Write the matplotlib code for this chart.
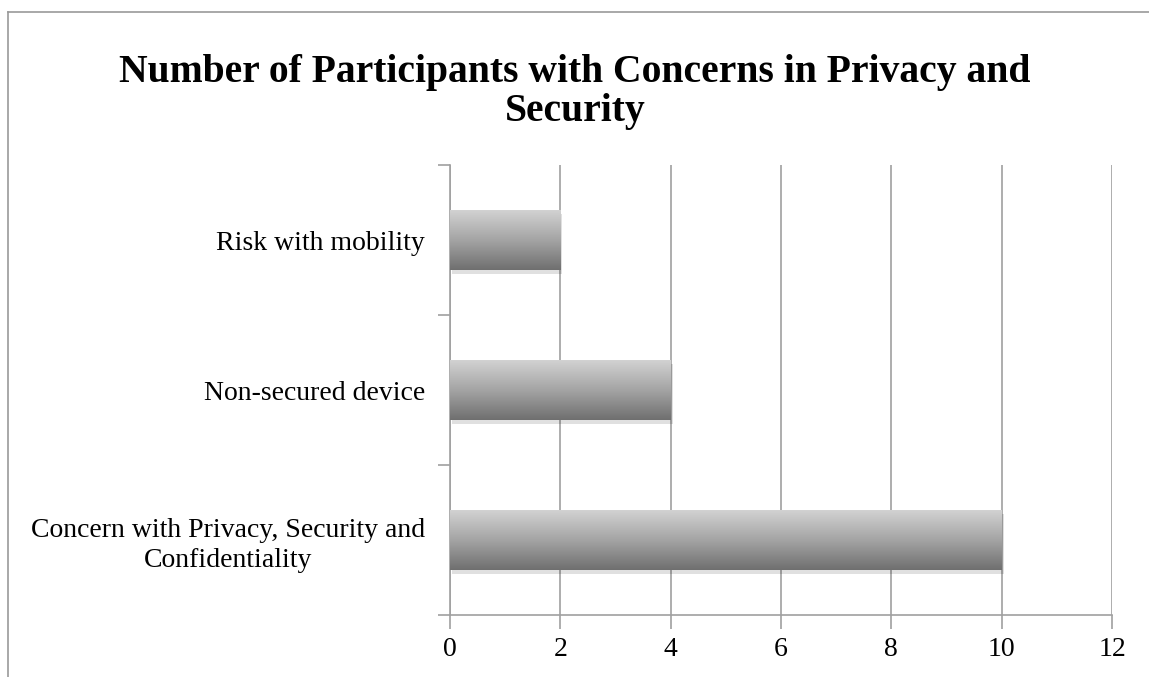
import numpy as np
import matplotlib
matplotlib.use("Agg")
import matplotlib.pyplot as plt
import matplotlib.patheffects as pe
from matplotlib.colors import LinearSegmentedColormap
from matplotlib.lines import Line2D

categories = ["Concern with Privacy, Security and\nConfidentiality",
              "Non-secured device",
              "Risk with mobility"]
values = [10, 4, 2]
xticks = [0, 2, 4, 6, 8, 10, 12]
title = "Number of Participants with Concerns in Privacy and\nSecurity"

plt.rcParams['font.family'] = ['Liberation Serif', 'DejaVu Serif']

fig = plt.figure(figsize=(11.49, 6.77), dpi=100)
ax = fig.add_axes([450 / 1149, 62 / 677, 662 / 1149, 450 / 677])

grey = "#a0a0a0"
ypos = np.arange(len(categories))
bars = ax.barh(ypos, values, height=0.4, color="#a0a0a0", linewidth=0, zorder=3,
               path_effects=[pe.SimplePatchShadow(offset=(1.5, -3), shadow_rgbFace="#000000", alpha=0.12),
                             pe.Normal()])

# light at the top, dark at the bottom
cmap = LinearSegmentedColormap.from_list("bargrad", ["#d2d2d2", "#a4a4a4", "#6f6f6f"])
grad = np.linspace(0, 1, 256).reshape(-1, 1)
for b in bars:
    x0, y0, w, h = b.get_x(), b.get_y(), b.get_width(), b.get_height()
    im = ax.imshow(grad, cmap=cmap, extent=[x0, x0 + w, y0, y0 + h], origin="upper",
                   aspect="auto", zorder=4, interpolation="bilinear")
    im.set_clip_path(b)

ax.set_xlim(0, 12)
ax.set_ylim(-0.5, len(categories) - 0.5)
ax.set_xticks(xticks)
ax.set_xticklabels([str(t) for t in xticks], fontsize=20)
ax.tick_params(axis="x", length=10, width=1.2, color=grey, pad=6)

ax.set_yticks(np.arange(-0.5, len(categories), 1.0))
ax.set_yticklabels([])
ax.tick_params(axis="y", which="major", length=9, width=1.2, color=grey)
ax.set_yticks(ypos, minor=True)
ax.set_yticklabels(categories, minor=True, fontsize=20, ha="right", multialignment="center",
                   linespacing=1.25)
ax.tick_params(axis="y", which="minor", length=0, pad=18)

ax.grid(axis="x", color=grey, linewidth=1.2, zorder=0)
ax.set_axisbelow(True)
for s in ["top", "right"]:
    ax.spines[s].set_visible(False)
for s in ["left", "bottom"]:
    ax.spines[s].set_color(grey)
    ax.spines[s].set_linewidth(1.2)

fig.text(575 / 1149, 1 - 92 / 677, title, ha="center", va="center",
         fontsize=28.5, fontweight="bold", linespacing=1.1)

# outer chart border
fig.add_artist(Line2D([8 / 1149, 8 / 1149], [0, 1 - 12 / 677], color="#999999", lw=1.2))
fig.add_artist(Line2D([8 / 1149, 1], [1 - 12 / 677, 1 - 12 / 677], color="#999999", lw=1.2))

fig.savefig("out.png", dpi=100)
